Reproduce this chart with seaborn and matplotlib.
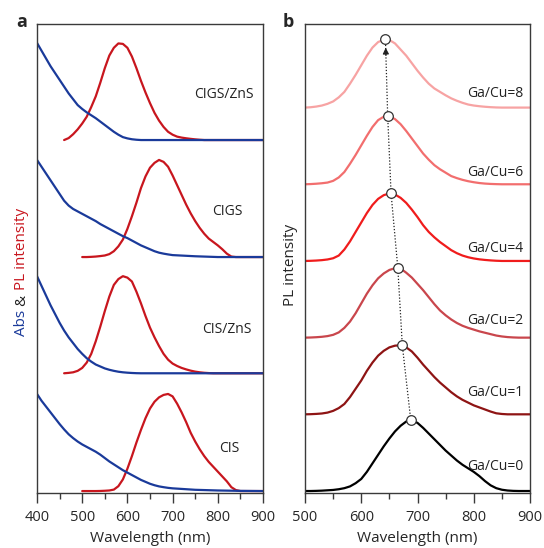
"""
Abs / PL spectra of CIS-based nanocrystals (a) and PL vs Ga/Cu ratio (b)
Run: python plot.py  -> out.png
"""
import pandas as pd
import matplotlib.pyplot as plt
import seaborn as sns

# ---- panel a: absorption (blue) and PL (red), each normalised to 1 ----
SAMPLES_A = ["CIS", "CIS/ZnS", "CIGS", "CIGS/ZnS"]
OFFSETS_A = [0.0, 1.213, 2.41, 3.615]

ABS_WL = list(range(400, 701, 10)) + [750, 800, 850, 900]
ABS_CIS = [1.0, .93, .87, .81, .75, .69, .635, .585, .545, .51, .48, .455,
           .43, .405, .375, .34, .305, .275, .245, .215, .19, .165, .14, .115,
           .095, .075, .06, .048, .04, .033, .028, .013, .006, .002, 0]
ABS_CIS_ZNS = [1.0, .90, .80, .70, .61, .52, .44, .37, .31, .25, .20, .155,
               .12, .09, .07, .05, .036, .025, .016, .01, .006, .003, .001, 0,
               0, 0, 0, 0, 0, 0, 0, 0, 0, 0, 0]
ABS_CIGS = [1.0, .93, .86, .79, .72, .65, .58, .53, .495, .47, .445, .42,
            .395, .37, .34, .315, .29, .265, .24, .215, .195, .17, .145, .12,
            .10, .08, .06, .045, .035, .027, .02, .008, 0, 0, 0]
ABS_CIGS_ZNS = [1.0, .92, .84, .76, .69, .62, .55, .48, .42, .36, .32, .285,
                .255, .225, .19, .155, .12, .085, .055, .03, .017, .008, .003,
                0, 0, 0, 0, 0, 0, 0, 0, 0, 0, 0, 0]

PL_CIS_WL = list(range(500, 861, 10)) + [900]
PL_CIS = [0, 0, 0, 0, .001, .003, .006, .015, .05, .12, .23, .36, .50, .63,
          .75, .85, .92, .965, .99, 1.0, .975, .90, .81, .71, .60, .51, .43,
          .36, .30, .25, .20, .15, .10, .04, .01, 0, 0, 0]
PL_CIS_ZNS_WL = list(range(460, 791, 10)) + [900]
PL_CIS_ZNS = [0, .004, .01, .025, .055, .11, .20, .33, .48, .64, .79, .91,
              .97, 1.0, .985, .945, .84, .72, .59, .47, .37, .28, .20, .14,
              .10, .075, .055, .04, .027, .017, .01, .005, .002, 0, 0]
PL_CIGS_WL = list(range(500, 841, 10)) + [900]
PL_CIGS = [0, 0, .002, .005, .01, .016, .03, .06, .11, .18, .29, .42, .56,
           .71, .83, .92, .97, 1.0, .98, .93, .84, .74, .64, .54, .45, .37,
           .30, .24, .19, .155, .12, .08, .035, .005, 0, 0]
PL_CIGS_ZNS_WL = list(range(460, 771, 10)) + [900]
PL_CIGS_ZNS = [0, .02, .06, .11, .17, .24, .34, .45, .59, .74, .87, .95, .995,
               .99, .95, .86, .74, .61, .49, .38, .28, .20, .135, .085, .055,
               .035, .025, .018, .012, .007, .003, 0, 0]

LABEL_A_X = [825, 821, 820, 814]
LABEL_A_Y = [0.44, 1.66, 2.88, 4.08]

# ---- panel b: PL vs Ga/Cu ratio ----
RATIOS = ["Ga/Cu=0", "Ga/Cu=1", "Ga/Cu=2", "Ga/Cu=4", "Ga/Cu=6", "Ga/Cu=8"]
OFFSETS_B = [0, 1, 2, 3, 4, 5]
HEIGHTS_B = [0.925, 0.90, 0.91, 0.88, 0.89, 0.89]
PEAK_WL = [688, 673, 665, 653, 647, 643]

B_WL = list(range(500, 901, 10))
GC0 = [0, 0, .002, .005, .01, .015, .025, .04, .065, .11, .17, .27, .39, .51,
       .63, .74, .84, .92, .98, 1.0, .96, .89, .81, .73, .65, .57, .50, .43,
       .37, .32, .27, .21, .14, .08, .04, .018, .007, .002, 0, 0, 0]
GC1 = [0, .002, .006, .012, .025, .05, .09, .15, .25, .37, .49, .63, .75,
       .85, .92, .97, .995, 1.0, .97, .91, .82, .72, .63, .54, .46, .39, .32,
       .26, .21, .17, .13, .10, .07, .04, .015, .005, 0, 0, 0, 0, 0]
GC2 = [0, .002, .006, .012, .022, .04, .075, .14, .23, .35, .49, .63, .75,
       .85, .92, .97, .995, .99, .93, .86, .77, .68, .58, .48, .39, .32, .26,
       .21, .17, .14, .115, .09, .07, .05, .03, .017, .008, .003, 0, 0, 0]
GC4 = [0, .002, .006, .012, .022, .04, .08, .17, .29, .43, .57, .71, .83, .92,
       .975, 1.0, .985, .935, .86, .76, .65, .53, .43, .35, .28, .22, .16,
       .115, .08, .055, .037, .024, .015, .008, .003, 0, 0, 0, 0, 0, 0]
GC6 = [0, .003, .008, .015, .025, .05, .10, .18, .30, .43, .57, .71, .84, .94,
       .99, .995, .955, .88, .78, .67, .56, .45, .36, .28, .22, .17, .12, .09,
       .065, .045, .03, .018, .01, .005, .002, 0, 0, 0, 0, 0, 0]
GC8 = [0, .005, .015, .03, .055, .09, .15, .23, .35, .48, .62, .76, .88, .96,
       .995, .99, .94, .85, .76, .65, .54, .44, .35, .28, .23, .18, .135, .10,
       .07, .045, .03, .02, .012, .006, .002, 0, 0, 0, 0, 0, 0]

LABEL_B_X = 838
LABEL_B_Y = [0.32, 1.29, 2.23, 3.16, 4.15, 5.19]

BLUE = "#1a3a9a"
RED = "#c8161e"
COLORS_B = ["#000000", "#8e1414", "#c9464c", "#f01c1c", "#f26e6e", "#f7a3a3"]
SPINE = "#3a3a3a"

sns.set_style("ticks")
plt.rcParams["font.family"] = ["Open Sans", "DejaVu Sans"]


def make_frame(names, wls, vals, offsets, heights=None):
    rows = []
    for i, (name, wl, v) in enumerate(zip(names, wls, vals)):
        h = 1.0 if heights is None else heights[i]
        rows.append(pd.DataFrame({"wl": wl, "y": [offsets[i] + h * z for z in v],
                                  "sample": name}))
    return pd.concat(rows, ignore_index=True)


def style_axis(ax, xmin, xmax):
    ax.set_xlim(xmin, xmax)
    ax.set_xticks(range(xmin, xmax + 1, 100))
    ax.set_xticks(range(xmin, xmax + 1, 50), minor=True)
    ax.set_yticks([])
    ax.tick_params(axis="x", which="major", direction="out", length=7.5,
                   width=1, color=SPINE, labelsize=10.5, pad=4.5)
    ax.tick_params(axis="x", which="minor", direction="out", length=4.5,
                   width=1, color=SPINE)
    for s in ax.spines.values():
        s.set_visible(True)
        s.set_color(SPINE)
        s.set_linewidth(1.0)
    ax.set_xlabel("Wavelength (nm)", fontsize=11, labelpad=4.5)
    ax.set_ylabel("")


fig = plt.figure(figsize=(5.44, 5.48), dpi=100)
W, H = 544, 548
ax_a = fig.add_axes([37 / W, 1 - 493 / H, 226 / W, 469 / H])
ax_b = fig.add_axes([305 / W, 1 - 493 / H, 225 / W, 469 / H])

# panel a
abs_df = make_frame(SAMPLES_A, [ABS_WL] * 4,
                    [ABS_CIS, ABS_CIS_ZNS, ABS_CIGS, ABS_CIGS_ZNS], OFFSETS_A)
pl_df = make_frame(SAMPLES_A, [PL_CIS_WL, PL_CIS_ZNS_WL, PL_CIGS_WL, PL_CIGS_ZNS_WL],
                   [PL_CIS, PL_CIS_ZNS, PL_CIGS, PL_CIGS_ZNS], OFFSETS_A)
sns.lineplot(data=pl_df, x="wl", y="y", units="sample", estimator=None,
             sort=False, color=RED, lw=1.6, ax=ax_a)
sns.lineplot(data=abs_df, x="wl", y="y", units="sample", estimator=None,
             sort=False, color=BLUE, lw=1.6, ax=ax_a)
for name, x, y in zip(SAMPLES_A, LABEL_A_X, LABEL_A_Y):
    ax_a.text(x, y, name, ha="center", va="center", fontsize=10, color="#222222")
ax_a.set_ylim(-0.02, 4.81)
style_axis(ax_a, 400, 900)

# panel b
b_df = make_frame(RATIOS, [B_WL] * 6, [GC0, GC1, GC2, GC4, GC6, GC8],
                  OFFSETS_B, HEIGHTS_B)
sns.lineplot(data=b_df, x="wl", y="y", hue="sample", palette=COLORS_B,
             estimator=None, sort=False, lw=1.6, legend=False, ax=ax_b)
peaks = pd.DataFrame({"wl": PEAK_WL,
                      "y": [o + h for o, h in zip(OFFSETS_B, HEIGHTS_B)]})
ax_b.plot(peaks["wl"], peaks["y"], ls=(0, (1.0, 1.5)), color="#222222",
          lw=0.9, zorder=4)
# arrow head just below the top circle
x1, y1 = peaks["wl"].iloc[-2], peaks["y"].iloc[-2]
x2, y2 = peaks["wl"].iloc[-1], peaks["y"].iloc[-1]
tip = y2 - 0.11
tail = tip - 0.1
fx = lambda yy: x1 + (x2 - x1) * (yy - y1) / (y2 - y1)
ax_b.annotate("", xy=(fx(tip), tip), xytext=(fx(tail), tail),
              arrowprops=dict(arrowstyle="-|>", color="#222222", lw=0.8,
                              mutation_scale=9, shrinkA=0, shrinkB=0), zorder=5)
sns.scatterplot(data=peaks, x="wl", y="y", s=48, color="white",
                edgecolor="#333333", linewidth=0.9, zorder=6, ax=ax_b)
for name, y in zip(RATIOS, LABEL_B_Y):
    ax_b.text(LABEL_B_X, y, name, ha="center", va="center", fontsize=10,
              color="#222222")
ax_b.set_ylim(-0.026, 6.09)
style_axis(ax_b, 500, 900)

# y labels
fig.text(290 / W, 1 - 265 / H, "PL intensity", rotation=90, ha="center",
         va="center", fontsize=11)

fig.canvas.draw()
renderer = fig.canvas.get_renderer()
parts = [("Abs", BLUE), ("&", "#222222"), ("PL intensity", RED)]
lengths = []
for txt, _ in parts:
    t = fig.text(0, 0, txt, fontsize=11, rotation=90)
    lengths.append(t.get_window_extent(renderer).height)
    t.remove()
gap = 4.0
total = sum(lengths) + gap * (len(parts) - 1)
y_px = (H - 272) - total / 2
for (txt, col), ln in zip(parts, lengths):
    fig.text(25 / W, y_px / H, txt, fontsize=11, rotation=90, color=col,
             ha="left", va="baseline", rotation_mode="anchor")
    y_px += ln + gap

fig.text(22 / W, 1 - 22 / H, "a", fontsize=13, fontweight="bold",
         ha="center", va="center")
fig.text(288 / W, 1 - 22 / H, "b", fontsize=13, fontweight="bold",
         ha="center", va="center")

fig.savefig("out.png", dpi=100)
